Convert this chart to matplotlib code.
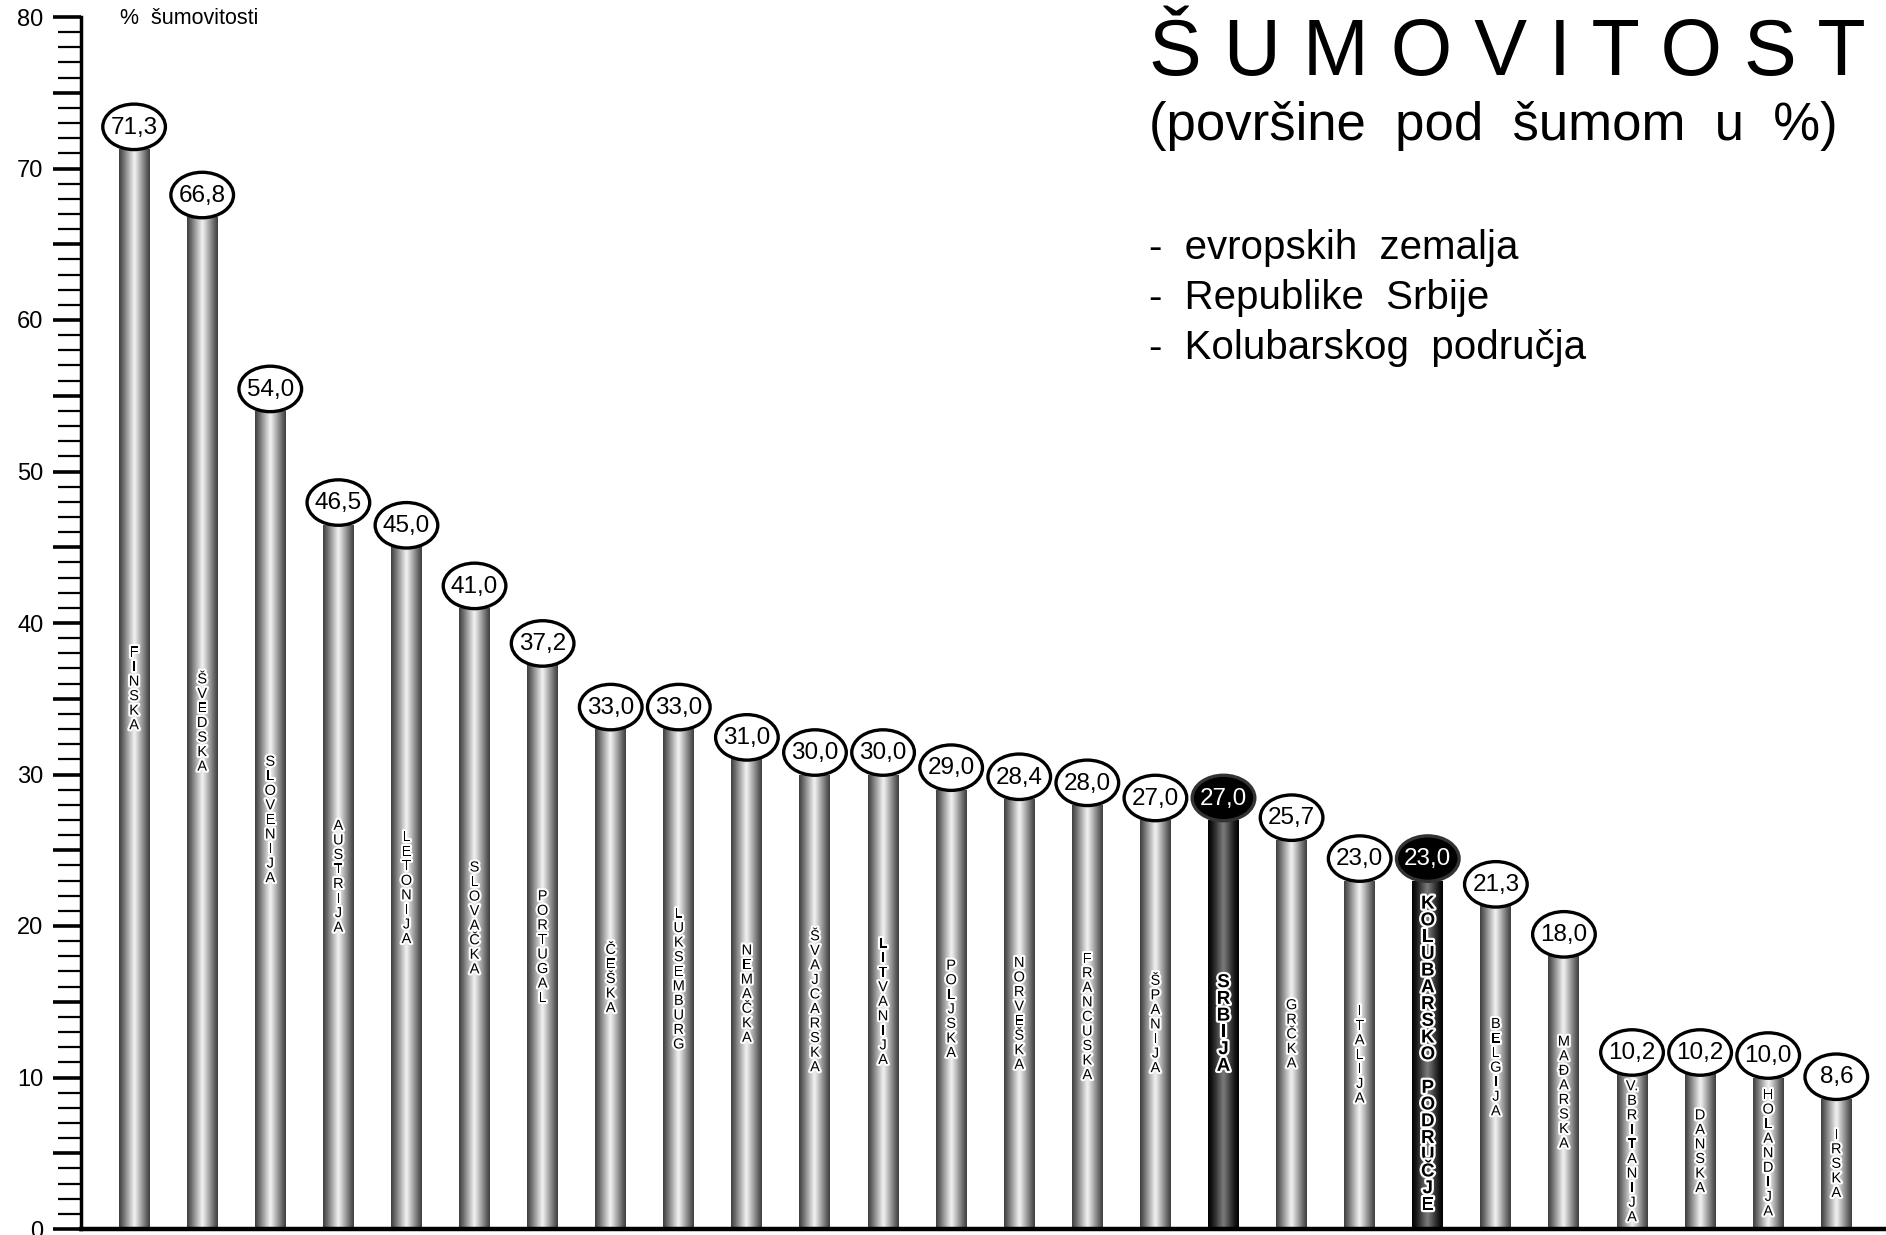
import numpy as np
import matplotlib
matplotlib.use('Agg')
import matplotlib.pyplot as plt
from matplotlib.patches import Ellipse
from matplotlib.colors import LinearSegmentedColormap
from matplotlib.ticker import MultipleLocator, FuncFormatter
import matplotlib.patheffects as pe

plt.rcParams['font.family'] = ['Liberation Sans', 'DejaVu Sans']

# data
countries = ['FINSKA', 'ŠVEDSKA', 'SLOVENIJA', 'AUSTRIJA', 'LETONIJA', 'SLOVAČKA',
             'PORTUGAL', 'ČEŠKA', 'LUKSEMBURG', 'NEMAČKA', 'ŠVAJCARSKA', 'LITVANIJA',
             'POLJSKA', 'NORVEŠKA', 'FRANCUSKA', 'ŠPANIJA', 'SRBIJA', 'GRČKA',
             'ITALIJA', 'KOLUBARSKO PODRUČJE', 'BELGIJA', 'MAĐARSKA', 'V.BRITANIJA',
             'DANSKA', 'HOLANDIJA', 'IRSKA']
values = [71.3, 66.8, 54.0, 46.5, 45.0, 41.0, 37.2, 33.0, 33.0, 31.0, 30.0, 30.0,
          29.0, 28.4, 28.0, 27.0, 27.0, 25.7, 23.0, 23.0, 21.3, 18.0, 10.2, 10.2,
          10.0, 8.6]
highlight = ['SRBIJA', 'KOLUBARSKO PODRUČJE']

title = 'Š U M O V I T O S T'
subtitle = '(površine  pod  šumom  u  %)'
bullets = ['-  evropskih  zemalja', '-  Republike  Srbije', '-  Kolubarskog  područja']
ylabel = '%  šumovitosti'

light_cmap = LinearSegmentedColormap.from_list(
    'cyl', ['#3c3c3c', '#676767', '#979797', '#c6c6c6', '#f4f4f4',
            '#c6c6c6', '#979797', '#676767', '#3c3c3c'])
dark_cmap = LinearSegmentedColormap.from_list(
    'cyl_dark', ['#000000', '#151515', '#353535', '#5a5a5a', '#7c7c7c',
                 '#5a5a5a', '#353535', '#151515', '#000000'])


def stack(name):
    lines = []
    for ch in name:
        if ch == '.' and lines:
            lines[-1] += ch
        else:
            lines.append(ch)
    return '\n'.join(lines)


W, H = 1886, 1235
fig = plt.figure(figsize=(W / 100, H / 100), dpi=100)
ax = fig.add_axes([81 / W, 6 / H, 1 - 81 / W, (1229 - 17) / H])

x = np.arange(len(values))
bars = ax.bar(x, values, width=0.455, color='none', edgecolor='none', zorder=2)
grad = np.linspace(0, 1, 256).reshape(1, -1)

for xi, v, name, patch in zip(x, values, countries, bars.patches):
    dark = name in highlight
    x0 = patch.get_x()
    im = ax.imshow(grad, cmap=dark_cmap if dark else light_cmap, aspect='auto',
                   extent=(x0, x0 + patch.get_width(), 0, patch.get_height()),
                   zorder=2, interpolation='bicubic')
    im.set_clip_path(patch)

    # value in an ellipse on top of the bar
    ell = Ellipse((xi, v + 1.45), width=0.92, height=3.0,
                  facecolor='black' if dark else 'white',
                  edgecolor='#333333' if dark else 'black', lw=2.4, zorder=4)
    ax.add_patch(ell)
    ax.text(xi, v + 1.4, f'{v:.1f}'.replace('.', ','), ha='center', va='center',
            fontsize=17.5, color='white' if dark else 'black', zorder=5)

    # stacked name inside the bar
    if dark:
        ax.text(xi, v / 2, stack(name), ha='center', va='center', fontsize=13.5,
                fontweight='bold', linespacing=0.98, zorder=3, multialignment='center',
                path_effects=[pe.withStroke(linewidth=3.2, foreground='white')])
    else:
        ax.text(xi, v / 2, stack(name), ha='center', va='center', fontsize=10.5,
                linespacing=1.05, zorder=3, multialignment='center',
                path_effects=[pe.withStroke(linewidth=3, foreground='white')])

ax.set_xlim(-0.78, 25.73)
ax.set_ylim(0, 80)

for s in ['top', 'right']:
    ax.spines[s].set_visible(False)
ax.spines['left'].set_linewidth(2.5)
ax.spines['bottom'].set_linewidth(3.2)
ax.set_xticks([])

ax.yaxis.set_major_locator(MultipleLocator(5))
ax.yaxis.set_minor_locator(MultipleLocator(1))
ax.yaxis.set_major_formatter(FuncFormatter(lambda v, p: f'{v:.0f}' if v % 10 == 0 else ''))
ax.tick_params(axis='y', which='major', length=20, width=2.6, labelsize=17, pad=7)
ax.tick_params(axis='y', which='minor', length=16.5, width=1.6)

fig.text(120 / W, 1 - 19 / H, ylabel, fontsize=15.5, va='center', ha='left')

fig.text(1149 / W, 1 - 75 / H, title, fontsize=57, va='baseline', ha='left')
fig.text(1149 / W, 1 - 140 / H, subtitle, fontsize=38, va='baseline', ha='left')
for i, b in enumerate(bullets):
    fig.text(1149 / W, 1 - (259 + 50 * i) / H, b, fontsize=29, va='baseline', ha='left')

fig.savefig('out.png', dpi=100)
